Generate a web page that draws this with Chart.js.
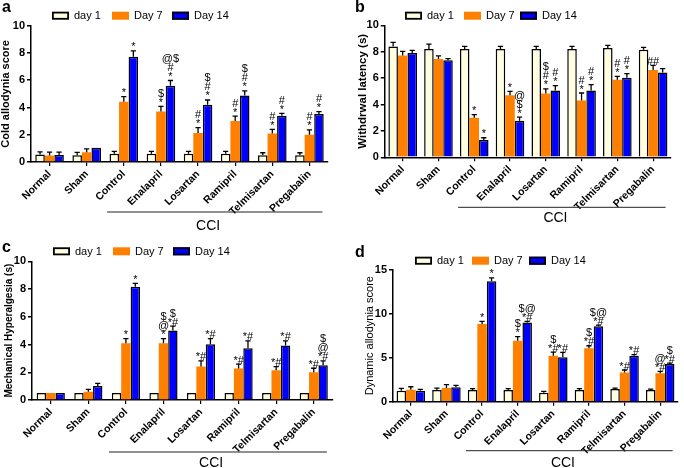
<!DOCTYPE html>
<html>
<head>
<meta charset="utf-8">
<script src="https://cdn.jsdelivr.net/npm/chart.js@4.4.0/dist/chart.umd.min.js"></script>
<style>
body { margin: 0; background: #fff; }
#wrap { position: relative; width: 684px; height: 468px; }
canvas { position: absolute; }
</style>
</head>
<body>
<div id="wrap">
  <canvas id="chartA" width="342" height="234" style="left:0;top:0"></canvas>
  <canvas id="chartB" width="342" height="234" style="left:342px;top:0"></canvas>
  <canvas id="chartC" width="342" height="234" style="left:0;top:234px"></canvas>
  <canvas id="chartD" width="342" height="234" style="left:342px;top:234px"></canvas>
</div>
<script>
const groups = ['Normal', 'Sham', 'Control', 'Enalapril', 'Losartan', 'Ramipril', 'Telmisartan', 'Pregabalin'];
const seriesNames = ['day 1', 'Day 7', 'Day 14'];
const seriesColors = ['#FFFEE0', '#FF8000', '#0000FF'];

// a - cold allodynia
const coldDay1 = [0.55, 0.5, 0.6, 0.6, 0.6, 0.6, 0.5, 0.5];
const coldDay1Err = [0.2, 0.2, 0.18, 0.18, 0.18, 0.18, 0.18, 0.18];
const coldDay7 = [0.48, 0.72, 4.42, 3.7, 2.12, 3.0, 2.1, 2.0];
const coldDay7Err = [0.25, 0.25, 0.38, 0.38, 0.4, 0.37, 0.3, 0.35];
const coldDay14 = [0.52, 1.05, 7.73, 5.6, 4.2, 4.88, 3.4, 3.52];
const coldDay14Err = [0.2, 0, 0.42, 0.38, 0.35, 0.34, 0.17, 0.17];
const coldSig7 = ['', '', '*', '$\n*', '#\n*', '#\n*', '#\n*', '#\n*'];
const coldSig14 = ['', '', '*', '@$\n#\n*', '$\n#\n*', '$\n#\n*', '#\n*', '#\n*'];

// b - withdrawal latency
const latDay1 = [8.4, 8.2, 8.2, 8.2, 8.2, 8.2, 8.28, 8.15];
const latDay1Err = [0.3, 0.37, 0.2, 0.2, 0.2, 0.2, 0.2, 0.18];
const latDay7 = [7.72, 7.45, 2.99, 4.7, 4.83, 4.3, 5.88, 6.62];
const latDay7Err = [0.3, 0.23, 0.25, 0.3, 0.35, 0.57, 0.25, 0.35];
const latDay14 = [7.9, 7.35, 1.31, 2.76, 5.06, 5.06, 6.02, 6.42];
const latDay14Err = [0.2, 0.13, 0.17, 0.28, 0.37, 0.44, 0.32, 0.3];
const latSig7 = ['', '', '*', '*', '$\n#\n*', '#\n*', '#\n*', '##'];
const latSig14 = ['', '', '*', '@\n$\n*', '#\n*', '#\n*', '#\n*', ''];

// c - mechanical hyperalgesia
const mechDay1 = [0.5, 0.5, 0.5, 0.5, 0.5, 0.5, 0.5, 0.5];
const mechDay1Err = [0, 0, 0, 0, 0, 0, 0, 0];
const mechDay7 = [0.5, 0.6, 4.1, 4.1, 2.41, 2.27, 2.14, 2.0];
const mechDay7Err = [0, 0.17, 0.33, 0.33, 0.41, 0.31, 0.27, 0.29];
const mechDay14 = [0.5, 1.01, 8.17, 5.01, 4.02, 3.73, 3.93, 2.5];
const mechDay14Err = [0, 0.19, 0.24, 0.32, 0.41, 0.54, 0.34, 0.32];
const mechSig7 = ['', '', '*', '$\n@\n*', '*#', '*#', '*#', '*#'];
const mechSig14 = ['', '', '*', '$\n*#', '*#', '*#', '*#', '$\n@\n*#'];

// d - dynamic allodynia
const dynDay1 = [1.25, 1.33, 1.33, 1.33, 1.02, 1.33, 1.44, 1.33];
const dynDay1Err = [0.27, 0.22, 0.15, 0.15, 0.15, 0.15, 0.11, 0.11];
const dynDay7 = [1.36, 1.55, 8.83, 6.93, 5.23, 6.06, 3.33, 3.22];
const dynDay7Err = [0.34, 0.38, 0.3, 0.46, 0.41, 0.3, 0.27, 0.23];
const dynDay14 = [1.25, 1.63, 13.7, 9.0, 5.04, 8.56, 5.23, 4.28];
const dynDay14Err = [0.15, 0.23, 0.38, 0.13, 0.56, 0.15, 0.11, 0.11];
const dynSig7 = ['', '', '*', '$\n*', '$\n*#', '$\n*#', '*#', '@\n*#'];
const dynSig14 = ['', '', '*', '$@\n*#', '*#', '$@\n*#', '*#', '$\n*#'];

const noSig = ['', '', '', '', '', '', '', ''];
const FONT = '"Liberation Sans", Arial, sans-serif';

Chart.defaults.color = '#000';
Chart.defaults.font.family = FONT;

const decoPlugin = p => ({
  id: 'deco',
  afterDatasetsDraw(chart) {
    const ctx = chart.ctx;
    const y = chart.scales.y;
    const x = chart.scales.x;
    const area = chart.chartArea;
    ctx.save();
    p.series.forEach((s, i) => {
      const meta = chart.getDatasetMeta(i);
      meta.data.forEach((bar, j) => {
        const err = s.err[j];
        const capY = y.getPixelForValue(s.values[j] + err);
        if (err > 0) {
          ctx.strokeStyle = '#000';
          ctx.lineWidth = 1.3;
          ctx.beginPath();
          ctx.moveTo(bar.x, bar.y);
          ctx.lineTo(bar.x, capY);
          ctx.moveTo(bar.x - 2.6, capY);
          ctx.lineTo(bar.x + 2.6, capY);
          ctx.stroke();
        }
        if (s.sig[j]) {
          ctx.fillStyle = '#000';
          ctx.font = '11px ' + FONT;
          ctx.textAlign = 'center';
          ctx.textBaseline = 'alphabetic';
          s.sig[j].split('\n').reverse().forEach((t, k) => {
            ctx.fillText(t, bar.x, capY - 0.5 - k * 9);
          });
        }
      });
    });

    // CCI bracket under the treated groups
    const step = x.getPixelForValue(1) - x.getPixelForValue(0);
    const x0 = x.getPixelForValue(0) + step * 1.55;
    const x1 = x.getPixelForValue(0) + step * 7.35;
    const xm = x.getPixelForValue(0) + step * 4.27;
    const ly = area.bottom + p.cciDy;
    ctx.strokeStyle = '#222';
    ctx.lineWidth = 1;
    ctx.beginPath();
    ctx.moveTo(x0, ly);
    ctx.lineTo(x1, ly);
    ctx.stroke();
    ctx.fillStyle = '#000';
    ctx.font = '14px ' + FONT;
    ctx.textAlign = 'center';
    ctx.textBaseline = 'alphabetic';
    ctx.fillText('CCI', xm, ly + p.cciTextDy);

    // y title
    ctx.save();
    ctx.translate(p.titleX, (area.top + area.bottom) / 2);
    ctx.rotate(-Math.PI / 2);
    ctx.font = p.titleFont + FONT;
    ctx.textBaseline = 'middle';
    ctx.fillText(p.title, 0, 0);
    ctx.restore();

    // panel letter
    ctx.font = 'bold 16px ' + FONT;
    ctx.textAlign = 'left';
    ctx.fillText(p.letter, p.letterX, p.letterY);

    // legend
    seriesNames.forEach((name, k) => {
      const bx = p.legendX[k];
      const by = p.legendY - 4;
      ctx.fillStyle = seriesColors[k];
      ctx.fillRect(bx, by, 17, 8);
      if (k !== 1) {
        ctx.strokeStyle = '#000';
        ctx.lineWidth = 1.8;
        ctx.strokeRect(bx + 0.9, by + 0.9, 15.2, 6.2);
      }
      ctx.fillStyle = '#000';
      ctx.font = '11px ' + FONT;
      ctx.textAlign = 'left';
      ctx.textBaseline = 'middle';
      ctx.fillText(name, bx + 22, p.legendY + 0.5);
    });
    ctx.restore();
  }
});

function makePanel(id, p) {
  const datasets = p.series.map((s, i) => ({
    label: seriesNames[i],
    data: s.values,
    backgroundColor: seriesColors[i],
    borderColor: '#000',
    borderWidth: i === 1 ? 0 : 1.5,
    borderSkipped: 'bottom',
    categoryPercentage: p.catPct,
    barPercentage: 1.0
  }));
  new Chart(document.getElementById(id), {
    type: 'bar',
    data: { labels: groups, datasets },
    options: {
      responsive: false,
      animation: false,
      layout: {
        autoPadding: false,
        padding: { left: 0, top: p.top, right: 342 - p.right, bottom: 0 }
      },
      plugins: { legend: { display: false }, tooltip: { enabled: false } },
      scales: {
        x: {
          afterFit: s => { s.height = 234 - p.bottom; },
          grid: { display: true, drawOnChartArea: false, drawTicks: true, tickLength: 4, offset: false, color: '#000', lineWidth: 1.2 },
          border: { display: true, color: '#000', width: 1.5 },
          ticks: { autoSkip: false, minRotation: 45, maxRotation: 45, padding: 2, font: { size: 10.5, weight: 'bold' } }
        },
        y: {
          min: 0,
          max: p.max,
          afterFit: s => { s.width = p.left; },
          grid: { display: true, drawOnChartArea: false, drawTicks: true, tickLength: 4, color: '#000', lineWidth: 1.5 },
          border: { display: true, color: '#000', width: 1.5 },
          ticks: { stepSize: p.step, padding: 2, font: { size: 11, weight: 'bold' } }
        }
      }
    },
    plugins: [decoPlugin(p)]
  });
}

makePanel('chartA', {
  series: [
    { values: coldDay1, err: coldDay1Err, sig: noSig },
    { values: coldDay7, err: coldDay7Err, sig: coldSig7 },
    { values: coldDay14, err: coldDay14Err, sig: coldSig14 }
  ],
  max: 10, step: 2,
  left: 31, right: 328, top: 25.7, bottom: 162, catPct: 0.77,
  title: 'Cold allodynia score', titleFont: 'bold 11px ', titleX: 6,
  letter: 'a', letterX: 2, letterY: 12,
  legendX: [52, 112, 172], legendY: 15.7,
  cciDy: 50, cciTextDy: 18
});

makePanel('chartB', {
  series: [
    { values: latDay1, err: latDay1Err, sig: noSig },
    { values: latDay7, err: latDay7Err, sig: latSig7 },
    { values: latDay14, err: latDay14Err, sig: latSig14 }
  ],
  max: 10, step: 2,
  left: 42.8, right: 329, top: 25.3, bottom: 157.3, catPct: 0.8,
  title: 'Withdrwal latency (s)', titleFont: 'bold 11.5px ', titleX: 21,
  letter: 'b', letterX: 13, letterY: 12,
  legendX: [63, 122, 178], legendY: 15.7,
  cciDy: 50, cciTextDy: 15
});

makePanel('chartC', {
  series: [
    { values: mechDay1, err: mechDay1Err, sig: noSig },
    { values: mechDay7, err: mechDay7Err, sig: mechSig7 },
    { values: mechDay14, err: mechDay14Err, sig: mechSig14 }
  ],
  max: 10, step: 2,
  left: 32, right: 332.5, top: 27.3, bottom: 166, catPct: 0.75,
  title: 'Mechanical Hyperalgesia (s)', titleFont: 'bold 10px ', titleX: 9,
  letter: 'c', letterX: 2, letterY: 18,
  legendX: [53, 113, 173], legendY: 17.3,
  cciDy: 52, cciTextDy: 15
});

makePanel('chartD', {
  series: [
    { values: dynDay1, err: dynDay1Err, sig: noSig },
    { values: dynDay7, err: dynDay7Err, sig: dynSig7 },
    { values: dynDay14, err: dynDay14Err, sig: dynSig14 }
  ],
  max: 15, step: 5,
  left: 51, right: 336, top: 35.7, bottom: 167.7, catPct: 0.8,
  title: 'Dynamic allodynia score', titleFont: '11px ', titleX: 28,
  letter: 'd', letterX: 13, letterY: 23,
  legendX: [73, 130, 187], legendY: 26.7,
  cciDy: 49, cciTextDy: 16
});
</script>
</body>
</html>
